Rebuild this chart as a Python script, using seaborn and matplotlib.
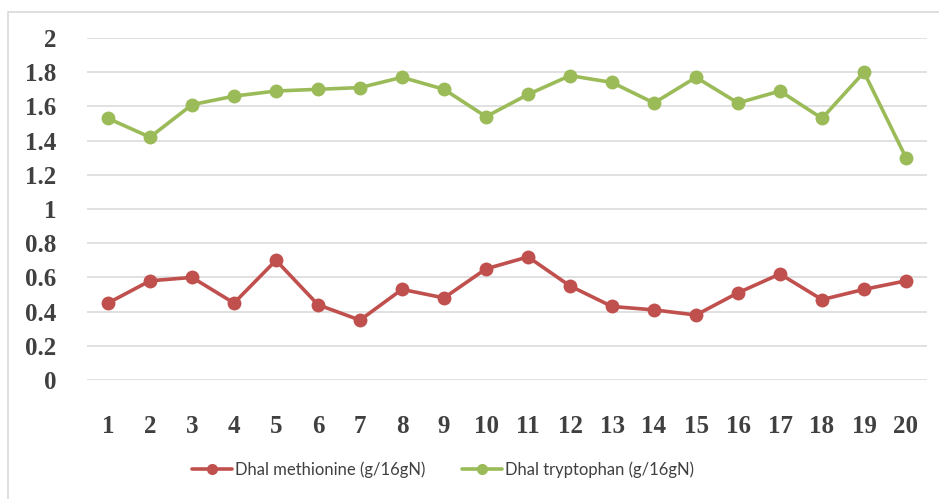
import numpy as np
import pandas as pd
import matplotlib
matplotlib.use("Agg")
import matplotlib.pyplot as plt
import seaborn as sns
from matplotlib.patches import Rectangle
from matplotlib.lines import Line2D

samples = list(range(1, 21))
methionine = [0.45, 0.58, 0.60, 0.45, 0.70, 0.44, 0.35, 0.53, 0.48, 0.65,
              0.72, 0.55, 0.43, 0.41, 0.38, 0.51, 0.62, 0.47, 0.53, 0.58]
tryptophan = [1.53, 1.42, 1.61, 1.66, 1.69, 1.70, 1.71, 1.77, 1.70, 1.54,
              1.67, 1.78, 1.74, 1.62, 1.77, 1.62, 1.69, 1.53, 1.80, 1.30]
series_names = ["Dhal methionine (g/16gN)", "Dhal tryptophan (g/16gN)"]
y_ticks = [0, 0.2, 0.4, 0.6, 0.8, 1, 1.2, 1.4, 1.6, 1.8, 2]
y_labels = ["0", "0.2", "0.4", "0.6", "0.8", "1", "1.2", "1.4", "1.6", "1.8", "2"]
colors = ["#C0504D", "#9BBB59"]

df = pd.DataFrame({
    "sample": samples * 2,
    "value": methionine + tryptophan,
    "series": [series_names[0]] * len(samples) + [series_names[1]] * len(samples),
})

sns.set_style("white")
fig = plt.figure(figsize=(9.39, 4.99), dpi=100)
ax = fig.add_axes([87 / 939, 119 / 499, 840 / 939, 342 / 499])

# outer chart frame
fig.patches.append(Rectangle((8 / 939, -0.05), 1.0, 0.05 + (499 - 12) / 499,
                             transform=fig.transFigure, fill=False,
                             edgecolor="#D9D9D9", linewidth=1.2, zorder=0))

sns.lineplot(data=df, x="sample", y="value", hue="series",
             palette=colors, marker="o", markersize=10,
             markeredgewidth=0, linewidth=2.6, ax=ax, legend=False, zorder=3)

ax.set_xlim(0.5, 20.5)
ax.set_ylim(0, 2)
ax.set_yticks(y_ticks)
ax.set_yticklabels(y_labels)
ax.set_xticks(samples)
ax.set_xticklabels([str(s) for s in samples])
ax.yaxis.grid(True, color="#D9D9D9", linewidth=1.1)
ax.set_axisbelow(True)
for s in ax.spines.values():
    s.set_visible(False)
ax.set_xlabel("")
ax.set_ylabel("")
ax.tick_params(axis="both", length=0)
ax.tick_params(axis="y", pad=22)
ax.tick_params(axis="x", pad=25)
for lab in ax.get_xticklabels() + ax.get_yticklabels():
    lab.set_fontfamily("Liberation Serif")
    lab.set_fontweight("bold")
    lab.set_fontsize(18)
    lab.set_color("#404040")

handles = [Line2D([], [], color=c, marker="o", markersize=8, linewidth=2.6,
                  markeredgewidth=0) for c in colors]
leg = fig.legend(handles, series_names, loc="center",
                 bbox_to_anchor=(443 / 939, 29 / 499),
                 ncol=2, frameon=False, handlelength=2.4, handletextpad=0.2,
                 columnspacing=2.2,
                 prop={"family": ["Lato", "DejaVu Sans"], "size": 12})
for t in leg.get_texts():
    t.set_color("#404040")

fig.savefig("out.png", dpi=100)
